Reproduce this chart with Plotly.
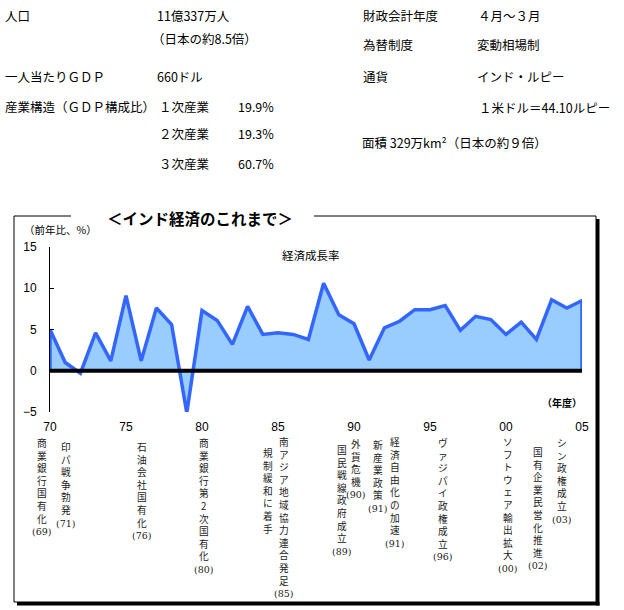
import plotly.graph_objects as go

W, H = 624, 610

# ---------------- data ----------------
years = list(range(1970, 2006))
growth = [5.0, 1.0, -0.3, 4.6, 1.2, 9.1, 1.2, 7.6, 5.6, -5.1,
          7.3, 6.1, 3.2, 7.8, 4.4, 4.6, 4.4, 3.8, 10.6, 6.8,
          5.7, 1.3, 5.2, 6.0, 7.4, 7.4, 7.9, 4.9, 6.6, 6.2,
          4.4, 5.9, 3.8, 8.6, 7.6, 8.5]
x_tickvals = [1970, 1975, 1980, 1985, 1990, 1995, 2000, 2005]
x_ticktext = ["70", "75", "80", "85", "90", "95", "00", "05"]
y_tickvals = [-5, 0, 5, 10, 15]

info_left = ["人口", "11億337万人", "（日本の約8.5倍）", "一人当たりＧＤＰ", "660ドル",
             "産業構造（ＧＤＰ構成比）", "１次産業", "19.9%", "２次産業", "19.3%",
             "３次産業", "60.7%"]
info_right = ["財政会計年度", "４月～３月", "為替制度", "変動相場制", "通貨", "インド・ルピー",
              "１米ドル＝44.10ルピー", "面積 329万km²（日本の約９倍）"]

events = ["商業銀行国有化", "印パ戦争勃発", "石油会社国有化", "商業銀行第2次国有化",
          "規制緩和に着手", "南アジア地域協力連合発足", "国民戦線政府成立", "外貨危機",
          "新産業政策", "経済自由化の加速", "ヴァジパイ政権成立", "ソフトウェア輸出拡大",
          "国有企業民営化推進", "シン政権成立"]
event_years = ["(69)", "(71)", "(76)", "(80)", "", "(85)", "(89)", "(90)",
               "(91)", "(91)", "(96)", "(00)", "(02)", "(03)"]

# ---------------- layout positions (pixels) ----------------
info_left_pos = [(3, 15), (155, 15), (150, 38), (3, 76), (155, 76),
                 (3, 106), (157, 106), (236, 106), (157, 134), (236, 134),
                 (157, 163), (236, 163)]
info_right_pos = [(361, 15), (476, 15), (361, 45), (475, 45), (361, 76), (475, 76),
                  (477, 107), (360, 142)]
event_x = [41.7, 66, 141.7, 204, 268, 284, 341.7, 356, 378, 395, 443, 508, 538, 562]
event_y0 = [443, 447, 447, 443, 453, 442, 450, 444, 445, 442, 443, 442, 452, 443]
EV_SIZE = 9.7  # line pitch = 1.3 * size

PX_L, PX_R = 50, 582
PY_T, PY_B = 247, 412


def X(px):
    return px / W


def Y(py):
    return 1 - py / H


JP = "Noto Sans CJK JP"
AR = "Liberation Sans, Arial"

fig = go.Figure()
fig.add_trace(go.Scatter(
    x=[years[0]] + years + [years[-1]],
    y=[0] + growth + [0],
    mode="lines", fill="toself",
    fillcolor="#99CCFF",
    line=dict(color="#3366FF", width=3.5),
    hoverinfo="skip", showlegend=False,
))

ann = []
for t, (px, py) in zip(info_left, info_left_pos):
    ann.append(dict(x=X(px), y=Y(py), xref="paper", yref="paper", text=t,
                    xanchor="left", yanchor="middle", showarrow=False,
                    font=dict(family=JP, size=12.5, color="black")))
for t, (px, py) in zip(info_right, info_right_pos):
    ann.append(dict(x=X(px), y=Y(py), xref="paper", yref="paper", text=t,
                    xanchor="left", yanchor="middle", showarrow=False,
                    font=dict(family=JP, size=12.5, color="black")))

# chart title & labels
ann.append(dict(x=X(200), y=Y(218), xref="paper", yref="paper", text="<b>＜インド経済のこれまで＞</b>",
                xanchor="center", yanchor="middle", showarrow=False,
                font=dict(family=JP, size=15.5, color="black")))
ann.append(dict(x=X(22), y=Y(230), xref="paper", yref="paper", text="（前年比、%）",
                xanchor="left", yanchor="middle", showarrow=False,
                font=dict(family=JP, size=10.5, color="black")))
ann.append(dict(x=X(311), y=Y(255), xref="paper", yref="paper", text="経済成長率",
                xanchor="center", yanchor="middle", showarrow=False,
                font=dict(family=JP, size=11.5, color="black")))
ann.append(dict(x=X(562), y=Y(402), xref="paper", yref="paper", text="<b>（年度）</b>",
                xanchor="center", yanchor="middle", showarrow=False,
                font=dict(family=JP, size=10, color="black")))

# vertical event labels (one character per line)
pitch = 1.3 * EV_SIZE
for lab, yr, ex, ey in zip(events, event_years, event_x, event_y0):
    lines = list(lab)
    if yr:
        lines.append("<span style='font-family:DejaVu Serif, Liberation Serif;font-size:9.5px'>%s</span>" % yr)
    ann.append(dict(x=X(ex), y=Y(ey - pitch / 2 - 3), xref="paper", yref="paper",
                    text="<br>".join(lines), align="center",
                    xanchor="center", yanchor="top", showarrow=False,
                    font=dict(family=JP, size=EV_SIZE, color="#222222")))

shapes = []


def seg(x0, y0, x1, y1, w=1):
    shapes.append(dict(type="line", xref="paper", yref="paper",
                       x0=X(x0), y0=Y(y0), x1=X(x1), y1=Y(y1),
                       line=dict(color="black", width=w)))


# frame
seg(14, 216, 71, 216)
seg(314, 216, 596, 216)
seg(14, 216, 14, 602)
seg(14, 602, 596, 602)
seg(596, 216, 596, 602)
# shadow
shapes.append(dict(type="rect", xref="paper", yref="paper", x0=X(596), x1=X(599.5),
                   y0=Y(219), y1=Y(605.5), fillcolor="black", line=dict(width=0)))
shapes.append(dict(type="rect", xref="paper", yref="paper", x0=X(17), x1=X(599.5),
                   y0=Y(602), y1=Y(605.5), fillcolor="black", line=dict(width=0)))
# zero baseline
shapes.append(dict(type="line", xref="x", yref="y", x0=years[0], x1=years[-1], y0=0, y1=0,
                   line=dict(color="black", width=4)))

fig.update_layout(
    template="none",
    width=W, height=H, autosize=False,
    margin=dict(l=0, r=0, t=0, b=0, pad=0),
    paper_bgcolor="white", plot_bgcolor="white",
    showlegend=False,
    annotations=ann, shapes=shapes,
    xaxis=dict(domain=[X(PX_L), X(PX_R)], range=[years[0], years[-1]],
               tickvals=x_tickvals, ticktext=x_ticktext, ticks="", showline=False,
               showgrid=False, zeroline=False, ticklabelstandoff=6, automargin=False,
               tickfont=dict(family=AR, size=12, color="black")),
    yaxis=dict(domain=[Y(PY_B), Y(PY_T)], range=[-5, 15], tickvals=y_tickvals,
               ticks="inside", ticklen=4, tickcolor="black", showline=True,
               linecolor="black", linewidth=1, showgrid=False, zeroline=False,
               layer="above traces", ticklabelstandoff=10, automargin=False,
               tickfont=dict(family=AR, size=12, color="black")),
)

fig.write_html("out.html")
